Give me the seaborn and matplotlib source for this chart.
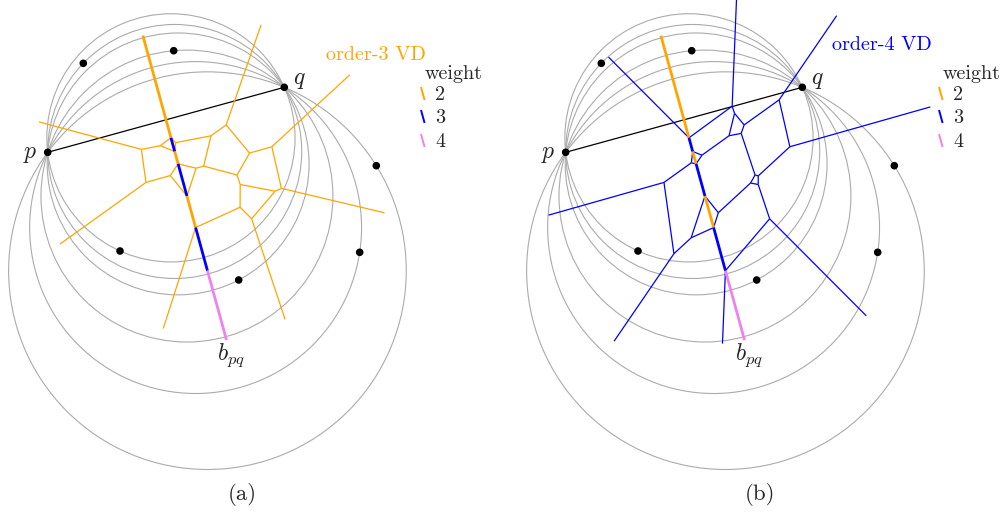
import numpy as np
import matplotlib
matplotlib.use("Agg")
import matplotlib.pyplot as plt
from matplotlib.patches import Circle
from matplotlib.collections import LineCollection
import seaborn as sns
import pandas as pd

# ---- data: site positions (drawing units, y grows downward) ----
p_site = (47.7, 152.3)
q_site = (284.3, 87.3)
other_x = [83.3, 173.7, 376.3, 120.0, 359.7, 238.7]
other_y = [63.3, 50.7, 165.7, 251.0, 252.3, 280.0]

panel_offsets = [0, 518]
panel_orders = [3, 4]
panel_tags = ["(a)", "(b)"]
panel_vd_labels = ["order-3 VD", "order-4 VD"]
panel_vd_colors = ["orange", "blue"]
weight_levels = [2, 3, 4]
weight_colors = ["orange", "blue", "violet"]

# ---- styling ----
RAY = 106.0                       # default length of unbounded Voronoi edges
BPQ_TOP_EXT = 106.0
BPQ_BOTTOM_EXT = 72.0
# per-ray lengths for the order-4 diagram: (site i, site j, end) -> length
RAY_LEN_B = {(3, 7, "lo"): 146, (3, 7, "hi"): 120,
             (1, 5, "lo"): 137, (1, 5, "hi"): 114,
             (0, 4, "lo"): 107, (0, 4, "hi"): 73,
             (2, 6, "lo"): 102, (2, 6, "hi"): 106}
panel_ray_lengths = [{}, RAY_LEN_B]

sns.set_theme(style="white")
plt.rcParams["mathtext.fontset"] = "cm"
plt.rcParams["axes.unicode_minus"] = False
TXT = dict(fontfamily="cmr10", fontsize=14.5)


def bisector_intervals(P, i, j):
    """Split the bisector of P[i], P[j] at every point equidistant to a third
    site; for each piece report how many sites are strictly closer."""
    a, b = P[i], P[j]
    mid = (a + b) / 2
    d = b - a
    u = np.array([-d[1], d[0]]) / np.hypot(*d)
    ts = []
    for l in range(len(P)):
        if l in (i, j):
            continue
        c = P[l]
        den = 2 * u.dot(a - c)
        if abs(den) < 1e-12:
            continue
        ts.append(-(np.sum((mid - c) ** 2) - np.sum((mid - a) ** 2)) / den)
    ts = sorted(ts)
    bounds = [-np.inf] + ts + [np.inf]
    out = []
    for t0, t1 in zip(bounds[:-1], bounds[1:]):
        if np.isinf(t0):
            tm = t1 - 1
        elif np.isinf(t1):
            tm = t0 + 1
        else:
            tm = (t0 + t1) / 2
        x = mid + tm * u
        r2 = np.sum((x - a) ** 2)
        cnt = sum(np.sum((x - P[l]) ** 2) < r2 for l in range(len(P)) if l not in (i, j))
        out.append((t0, t1, cnt))
    return mid, u, out


def order_k_edges(P, k, ray_lengths):
    segs = []
    for i in range(len(P)):
        for j in range(i + 1, len(P)):
            mid, u, ivs = bisector_intervals(P, i, j)
            for t0, t1, cnt in ivs:
                if cnt != k - 1:
                    continue
                if np.isinf(t0):
                    t0 = t1 - ray_lengths.get((i, j, "lo"), RAY)
                if np.isinf(t1):
                    t1 = t0 + ray_lengths.get((i, j, "hi"), RAY)
                segs.append([mid + t0 * u, mid + t1 * u])
    return segs


def circumcircle(a, b, c):
    ax_, ay = a
    bx, by = b
    cx, cy = c
    d = 2 * (ax_ * (by - cy) + bx * (cy - ay) + cx * (ay - by))
    ux = ((ax_**2 + ay**2) * (by - cy) + (bx**2 + by**2) * (cy - ay) + (cx**2 + cy**2) * (ay - by)) / d
    uy = ((ax_**2 + ay**2) * (cx - bx) + (bx**2 + by**2) * (ax_ - cx) + (cx**2 + cy**2) * (bx - ax_)) / d
    return np.array([ux, uy]), np.hypot(ax_ - ux, ay - uy)


fig = plt.figure(figsize=(10.04, 5.16), dpi=100)
ax = fig.add_axes([0, 0, 1, 1])

wcol = dict(zip(weight_levels, weight_colors))

for off, k, tag, vdlab, vdcol, rays in zip(panel_offsets, panel_orders, panel_tags,
                                           panel_vd_labels, panel_vd_colors,
                                           panel_ray_lengths):
    p = np.array(p_site) + [off, 0]
    q = np.array(q_site) + [off, 0]
    others = np.column_stack([np.array(other_x) + off, other_y])
    P = np.vstack([p, q, others])

    # pencil of circles through p and q, one per site
    for s in others:
        c, r = circumcircle(p, q, s)
        ax.add_patch(Circle(c, r, fill=False, ec="#ababab", lw=0.8, zorder=1))

    # segment pq
    ax.plot([p[0], q[0]], [p[1], q[1]], color="black", lw=0.9, zorder=2)

    # order-k Voronoi diagram
    ax.add_collection(LineCollection(order_k_edges(P, k, rays), colors=vdcol,
                                     lw=0.9, zorder=3))

    # bisector b_pq coloured by weight
    mid, u, ivs = bisector_intervals(P, 0, 1)
    for t0, t1, cnt in ivs:
        if np.isinf(t0):
            t0 = t1 - BPQ_TOP_EXT
        if np.isinf(t1):
            t1 = t0 + BPQ_BOTTOM_EXT
        a_, b_ = mid + t0 * u, mid + t1 * u
        ax.plot([a_[0], b_[0]], [a_[1], b_[1]], color=wcol[cnt], lw=2.0,
                solid_capstyle="butt", zorder=4)

    # sites
    df = pd.DataFrame({"x": P[:, 0], "y": P[:, 1]})
    sns.scatterplot(data=df, x="x", y="y", ax=ax, color="black", s=30,
                    edgecolor="none", zorder=5, legend=False)

    # labels
    ax.text(30 + off, 158, "$p$", fontsize=17, ha="center", va="baseline")
    ax.text(299 + off, 84, "$q$", fontsize=17, ha="center", va="baseline")
    ax.text(231 + off, 360, "$b_{pq}$", fontsize=17, ha="center", va="baseline")
    ax.text(242 + off, 494, tag, ha="center", va="center",
            fontfamily="cmr10", fontsize=16.5)
    if off == 0:
        ax.text(326, 60, vdlab, color=vdcol, ha="left", va="baseline", **TXT)
    else:
        ax.text(832, 50, vdlab, color=vdcol, ha="left", va="baseline", **TXT)

    # weight legend
    ax.text(425 + off, 79, "weight", ha="left", va="baseline", **TXT)
    for w, c, yb in zip(weight_levels, weight_colors, [100, 123, 147]):
        x0, y0 = 421 + off, yb - 13
        ax.plot([x0, x0 + 3.6], [y0, y0 + 13], color=c, lw=1.4, solid_capstyle="butt")
        ax.text(435 + off, yb, str(w), ha="left", va="baseline", **TXT)

ax.set_xlim(0, 1004)
ax.set_ylim(516, 0)
ax.set_axis_off()

fig.savefig("out.png", dpi=100)
